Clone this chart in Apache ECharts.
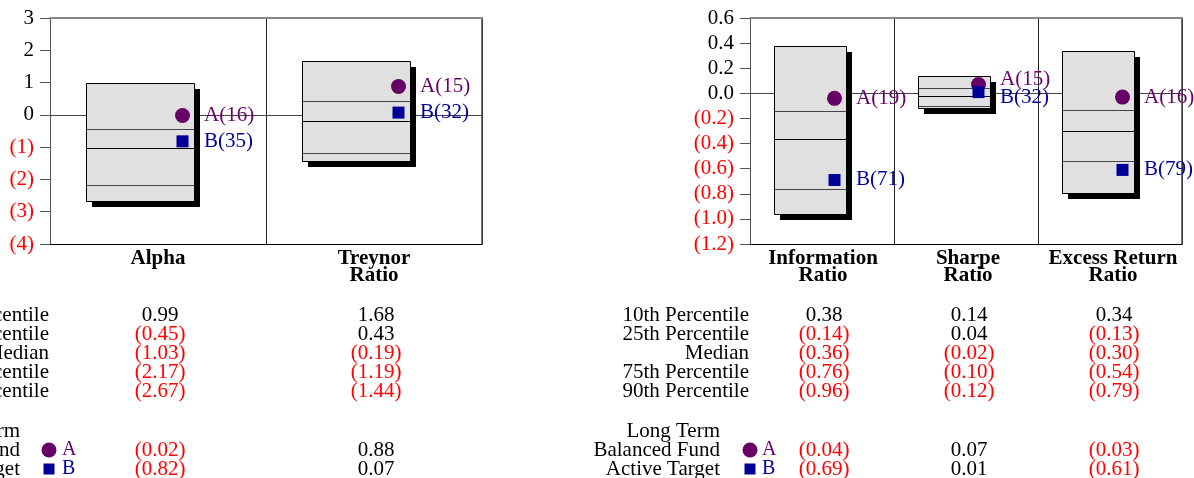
<!DOCTYPE html>
<html>
<head>
<meta charset="utf-8">
<script src="https://cdn.jsdelivr.net/npm/echarts@6/dist/echarts.min.js"></script>
<style>
  html, body { margin: 0; padding: 0; background: #fff; }
  #chart { width: 1194px; height: 478px; }
</style>
</head>
<body>
<div id="chart"></div>
<script>
// Risk statistics versus a peer universe: 10th-90th percentile bands
// with two funds (A = Long Term Balanced Fund, B = Active Target) and their ranks.

const leftMetrics = ['Alpha', 'Treynor\nRatio'];
const leftP10 = [0.99, 1.68];
const leftP25 = [-0.45, 0.43];
const leftMedian = [-1.03, -0.19];
const leftP75 = [-2.17, -1.19];
const leftP90 = [-2.67, -1.44];
const leftFundA = [-0.02, 0.88];
const leftFundB = [-0.82, 0.07];
const leftRankA = [16, 15];
const leftRankB = [35, 32];
const leftAxisMin = -4, leftAxisMax = 3, leftAxisStep = 1, leftAxisDecimals = 0;

const rightMetrics = ['Information\nRatio', 'Sharpe\nRatio', 'Excess Return\nRatio'];
const rightP10 = [0.38, 0.14, 0.34];
const rightP25 = [-0.14, 0.04, -0.13];
const rightMedian = [-0.36, -0.02, -0.30];
const rightP75 = [-0.76, -0.10, -0.54];
const rightP90 = [-0.96, -0.12, -0.79];
const rightFundA = [-0.04, 0.07, -0.03];
const rightFundB = [-0.69, 0.01, -0.61];
const rightRankA = [19, 15, 16];
const rightRankB = [71, 32, 79];
const rightAxisMin = -1.2, rightAxisMax = 0.6, rightAxisStep = 0.2, rightAxisDecimals = 1;

const percentileRows = ['10th Percentile', '25th Percentile', 'Median', '75th Percentile', '90th Percentile'];
const fundRows = ['Long Term', 'Balanced Fund', 'Active Target'];
const fundNames = ['A', 'B'];

const SERIF = '"Liberation Serif", "Times New Roman", serif';
const RED = '#ff0000';
const COLOR_A = '#660066';
const COLOR_B = '#000099';
const FONT_PX = 21;

// accounting-style number: negatives in parentheses
function fmt(v, d) {
  const s = Math.abs(v).toFixed(d);
  return v < -1e-9 ? '(' + s + ')' : s;
}

// ---- layout of the two panels ----
const panels = [
  {
    grid: { left: 50, top: 18, width: 432, height: 226 },
    metrics: leftMetrics, p10: leftP10, p25: leftP25, med: leftMedian, p75: leftP75, p90: leftP90,
    a: leftFundA, b: leftFundB, ra: leftRankA, rb: leftRankB,
    min: leftAxisMin, max: leftAxisMax, step: leftAxisStep, dec: leftAxisDecimals,
    labelX: [158, 374], colX: [160, 376],
    rowRight: 49, fundRight: 20, legendX: 49, legendTextX: 62
  },
  {
    grid: { left: 750, top: 18, width: 432, height: 226 },
    metrics: rightMetrics, p10: rightP10, p25: rightP25, med: rightMedian, p75: rightP75, p90: rightP90,
    a: rightFundA, b: rightFundB, ra: rightRankA, rb: rightRankB,
    min: rightAxisMin, max: rightAxisMax, step: rightAxisStep, dec: rightAxisDecimals,
    labelX: [823, 968, 1113], colX: [824, 969, 1114],
    rowRight: 749, fundRight: 720, legendX: 750, legendTextX: 762
  }
];

const rowY = [315, 334, 353, 372, 391];
const fundY = [431, 450, 469];

// box with drop shadow, quartile and median rules
function renderBox(params, api) {
  const i = api.value(0);
  const band = api.size([1, 0])[0];
  const c = api.coord([i, 0]);
  const left = Math.round(c[0] - band / 2 + band / 6);
  const right = Math.round(c[0] - band / 2 + band * 2 / 3);
  const y = k => Math.round(api.coord([i, api.value(k)])[1]);
  const yTop = y(1), yBot = y(5);
  const children = [];
  if (params.dataIndex === 0) {
    const cs = params.coordSys;
    const y0 = Math.round(c[1]) + 0.5;
    children.push({
      type: 'line', z2: -5,
      shape: { x1: cs.x, y1: y0, x2: cs.x + cs.width, y2: y0 },
      style: { stroke: '#444', lineWidth: 1 }
    });
  }
  children.push({
    type: 'rect', z2: 1,
    shape: { x: left + 6, y: yTop + 6, width: right - left, height: yBot - yTop },
    style: { fill: '#000' }
  });
  children.push({
    type: 'rect', z2: 2,
    shape: { x: left + 0.5, y: yTop + 0.5, width: right - left, height: yBot - yTop },
    style: { fill: '#e0e0e0', stroke: '#000', lineWidth: 1 }
  });
  [2, 3, 4].forEach(k => {
    const yy = y(k) + 0.5;
    children.push({
      type: 'line', z2: 3,
      shape: { x1: left + 1, y1: yy, x2: right, y2: yy },
      style: { stroke: k === 3 ? '#000' : '#444', lineWidth: 1 }
    });
  });
  return { type: 'group', children };
}

// fund markers with rank labels, labels spread apart when they would collide
function renderFunds(params, api) {
  const i = api.value(0);
  const band = api.size([1, 0])[0];
  const cx = api.coord([i, 0])[0];
  const right = Math.round(cx - band / 2 + band * 2 / 3);
  const mx = right - 11.5;
  const ya = api.coord([i, api.value(1)])[1];
  const yb = api.coord([i, api.value(2)])[1];
  let la = ya, lb = yb;
  const gap = 18;
  if (Math.abs(la - lb) < gap) {
    const mid = (la + lb) / 2;
    const s = la <= lb ? -1 : 1;
    la = mid + s * gap / 2;
    lb = mid - s * gap / 2;
  }
  const tx = right + 10;
  return {
    type: 'group',
    children: [
      { type: 'circle', shape: { cx: mx, cy: ya, r: 7.5 }, style: { fill: COLOR_A } },
      { type: 'rect', shape: { x: mx - 6, y: yb - 6, width: 12, height: 12 }, style: { fill: COLOR_B } },
      {
        type: 'text',
        style: {
          text: 'A(' + api.value(3) + ')', x: tx, y: la, font: FONT_PX + 'px ' + SERIF, fill: COLOR_A,
          align: 'left', verticalAlign: 'middle', textAlign: 'left', textVerticalAlign: 'middle'
        }
      },
      {
        type: 'text',
        style: {
          text: 'B(' + api.value(4) + ')', x: tx, y: lb, font: FONT_PX + 'px ' + SERIF, fill: COLOR_B,
          align: 'left', verticalAlign: 'middle', textAlign: 'left', textVerticalAlign: 'middle'
        }
      }
    ]
  };
}

function txt(text, x, y, opts) {
  opts = opts || {};
  const align = opts.align || 'center';
  const va = opts.va || 'middle';
  return {
    type: 'text', silent: true,
    style: {
      text, x, y,
      font: (opts.bold ? 'bold ' : '') + (opts.size || FONT_PX) + 'px ' + SERIF,
      fill: opts.color || '#000',
      align, verticalAlign: va, textAlign: align, textVerticalAlign: va,
      lineHeight: opts.lineHeight || 19
    }
  };
}

const grid = [], xAxis = [], yAxis = [], series = [], graphic = [];

panels.forEach((p, n) => {
  grid.push(p.grid);
  const cats = p.metrics.map(m => m.replace('\n', ' '));
  // bottom axis with category dividers
  xAxis.push({
    type: 'category', gridIndex: n, data: cats, position: 'bottom',
    axisLine: { onZero: false, lineStyle: { color: '#000', width: 1 } },
    axisTick: { show: false }, axisLabel: { show: false },
    splitLine: { show: true, lineStyle: { color: '#222', width: 1 } }
  });
  // top frame
  xAxis.push({
    type: 'category', gridIndex: n, data: cats, position: 'top',
    axisLine: { onZero: false, lineStyle: { color: '#888', width: 2 } },
    axisTick: { show: false }, axisLabel: { show: false }, splitLine: { show: false }
  });
  yAxis.push({
    type: 'value', gridIndex: n, min: p.min, max: p.max, interval: p.step,
    axisLine: { show: true, onZero: false, lineStyle: { color: '#555', width: 1 } },
    axisTick: { show: true, inside: false, length: 10, lineStyle: { color: '#555' } },
    splitLine: { show: false },
    axisLabel: {
      margin: 16,
      fontFamily: SERIF, fontSize: FONT_PX,
      formatter: v => (v < -1e-9 ? '{n|' : '{p|') + fmt(v, p.dec) + '}',
      rich: {
        n: { color: RED, fontFamily: SERIF, fontSize: FONT_PX },
        p: { color: '#000', fontFamily: SERIF, fontSize: FONT_PX }
      }
    }
  });
  // right frame
  yAxis.push({
    type: 'value', gridIndex: n, min: p.min, max: p.max, interval: p.step, position: 'right',
    axisLine: { show: true, onZero: false, lineStyle: { color: '#444', width: 1.5 } },
    axisTick: { show: false }, axisLabel: { show: false }, splitLine: { show: false }
  });

  series.push({
    type: 'custom', xAxisIndex: 2 * n, yAxisIndex: 2 * n, z: 2, clip: false, silent: true,
    renderItem: renderBox,
    encode: { x: 0, y: [1, 2, 3, 4, 5] },
    data: p.p10.map((v, i) => [i, p.p10[i], p.p25[i], p.med[i], p.p75[i], p.p90[i]])
  });
  series.push({
    type: 'custom', xAxisIndex: 2 * n, yAxisIndex: 2 * n, z: 3, clip: false, silent: true,
    renderItem: renderFunds,
    encode: { x: 0, y: [1, 2] },
    data: p.a.map((v, i) => [i, p.a[i], p.b[i], p.ra[i], p.rb[i]])
  });

  // category titles under the plot
  p.metrics.forEach((m, i) => {
    graphic.push(txt(m, p.labelX[i], 250, { bold: true, va: 'top', lineHeight: 17 }));
  });

  // percentile table
  const cols = [p.p10, p.p25, p.med, p.p75, p.p90];
  percentileRows.forEach((label, r) => {
    graphic.push(txt(label, p.rowRight, rowY[r], { align: 'right' }));
    cols[r].forEach((v, i) => {
      graphic.push(txt(fmt(v, 2), p.colX[i], rowY[r], { color: v < 0 ? RED : '#000' }));
    });
  });

  // fund rows with legend markers
  fundRows.forEach((label, r) => {
    graphic.push(txt(label, p.fundRight, fundY[r], { align: 'right' }));
  });
  graphic.push({
    type: 'circle', silent: true,
    shape: { cx: p.legendX, cy: fundY[1], r: 7.5 }, style: { fill: COLOR_A }
  });
  graphic.push({
    type: 'rect', silent: true,
    shape: { x: p.legendX - 5.5, y: fundY[2] - 5.5, width: 11, height: 11 }, style: { fill: COLOR_B }
  });
  graphic.push(txt(fundNames[0], p.legendTextX, fundY[1], { align: 'left', color: COLOR_A, size: 20 }));
  graphic.push(txt(fundNames[1], p.legendTextX, fundY[2], { align: 'left', color: COLOR_B, size: 20 }));
  [p.a, p.b].forEach((vals, k) => {
    vals.forEach((v, i) => {
      graphic.push(txt(fmt(v, 2), p.colX[i], fundY[k + 1], { color: v < 0 ? RED : '#000' }));
    });
  });
});

const chart = echarts.init(document.getElementById('chart'), null, { renderer: 'canvas' });
chart.setOption({
  animation: false,
  backgroundColor: '#fff',
  grid, xAxis, yAxis, series,
  graphic: { elements: graphic }
});
</script>
</body>
</html>
